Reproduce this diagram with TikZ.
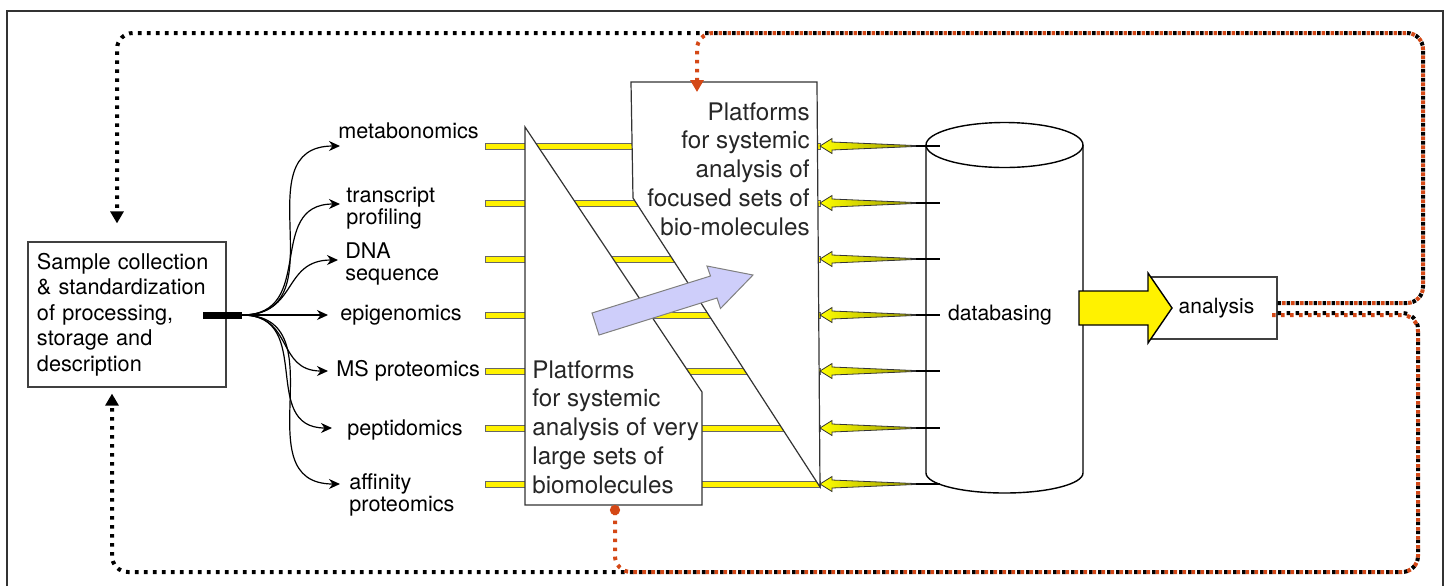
\documentclass[tikz,border=0pt]{standalone}
\usepackage{fontspec}
\setmainfont{TeX Gyre Heros}
\usetikzlibrary{arrows.meta}
\definecolor{lavender}{RGB}{206,206,250}
\definecolor{rust}{RGB}{212,72,22}
\begin{document}
\begin{tikzpicture}[x=0.5pt, y=-0.5pt,
        frame/.style={draw=black!80, line width=0.6pt},
        box/.style={draw=black!75, line width=0.6pt, fill=white},
        plat/.style={draw=black!80, line width=0.6pt, fill=white},
        lbl/.style={anchor=west, align=left, inner sep=0pt, font=\fontsize{10.8}{11}\selectfont},
        ptext/.style={inner sep=0pt, text=black!85, font=\fontsize{12.1}{14.4}\selectfont},
        fanline/.style={line width=0.6pt, -{Stealth[length=5.5pt, width=5pt]}},
        bar/.style={draw=black!60, line width=0.4pt, fill=yellow},
        spike/.style={draw=black!80, line width=0.4pt, left color=yellow, right color=yellow!55!black},
        db/.style={draw=black, line width=0.7pt},
        loopb/.style={draw=black, line width=2pt, dash pattern=on 1.8pt off 2.7pt, rounded corners=8pt},
        loopr/.style={loopb, draw=rust, dash phase=2.25pt},
        tip/.style={-{Triangle[length=6pt, width=6.5pt]}}]
    \useasboundingbox (0,0) rectangle (1448,586);
    % frame
    \draw[frame] (7,586) -- (7,11) -- (1443,11) -- (1443,586);

    % feeds running under the platforms
    \foreach \y in {146,203,259,315,371,428,484}
        \draw[bar] (485,\y-3) rectangle (820,\y+3);

    % platforms
    \draw[plat] (525,127) -- (702,392) -- (702,505) -- (525,505) -- cycle;
    \draw[plat] (631,82) -- (817,82) -- (820,487) -- (633,198) -- cycle;
    \node[ptext, anchor=west, align=left] (large) at (532,427)
        {Platforms\\for systemic\\analysis of very\\large sets of\\biomolecules};
    \node[ptext, anchor=east, align=right] (focused) at (810,169)
        {Platforms\\for systemic\\analysis of\\focused sets of\\bio-molecules};
    \draw[draw=black!50, line width=0.5pt, fill=lavender] (592,313) -- (710.5,276) -- (707,266)
        -- (753,275) -- (720.5,308.5) -- (717,298) -- (599,335) -- cycle;

    % database
    \draw[db, fill=white] (926,145) -- (926,473) arc[start angle=180, end angle=0, x radius=78.5, y radius=20] -- (1083,145);
    \draw[db] (1004.5,145) ellipse[x radius=78.5, y radius=22.5];
    \node[lbl, anchor=center, font=\fontsize{10.6}{11}\selectfont] (dbase) at (1000,315) {databasing};
    \foreach \y in {146,203,259,315,371,428,484} {
        \draw[spike] (820,\y) -- (832,\y-7.5) -- (832,\y-4) -- (926,\y) -- (832,\y+4) -- (832,\y+7.5) -- cycle;
        \draw[line width=0.6pt] (916,\y) -- (940,\y);
    }

    % analysis
    \node[box, minimum width=63.5pt, minimum height=31pt, font=\fontsize{10.5}{11}\selectfont] (analysis) at (1213.5,308) {\hspace{3pt}analysis};
    \draw[db, fill=yellow] (1079,291) -- (1148,291) -- (1148,273) -- (1172,308) -- (1148,343) -- (1148,325) -- (1079,325) -- cycle;

    % sample
    \node[box, align=left, text width=90pt, inner sep=4.5pt, minimum height=72.5pt,
        font=\fontsize{10.85}{12.75}\selectfont] (sample) at (127,314.5)
        {Sample collection\\\& standardization\\of processing,\\storage and\\description};

    \coordinate (fan) at (203,315);
    \coordinate (split) at (242,315);
    \coordinate (tm) at (340,146);
    \coordinate (tt) at (340,204);
    \coordinate (td) at (338,260);
    \coordinate (te) at (328,315);
    \coordinate (tms) at (328,371);
    \coordinate (tp) at (332,428);
    \coordinate (ta) at (340,484);
    \node[lbl] (metab) at (338,131) {metabonomics};
    \node[lbl] (transc) at (346,208) {transcript\\profiling};
    \node[lbl] (dna) at (345,264) {DNA\\sequence};
    \node[lbl] (epi) at (340,315) {epigenomics};
    \node[lbl] (msprot) at (336,371) {MS proteomics};
    \node[lbl] (pept) at (347,430) {peptidomics};
    \node[lbl] (affin) at (349,495) {affinity\\proteomics};
    \draw[line width=3.5pt] (fan) -- (split);
    \foreach \t in {tm,tt,td,tms,tp,ta}
        \draw[fanline] (split) to[out=0, in=180, looseness=1.3] (\t);
    \draw[fanline] (split) -- (te);

    % feedback loops
    \coordinate (rtop) at (697,92);
    \coordinate (lbot) at (615,505);
    \draw[loopb, tip] ([yshift=2.5pt]analysis.east) -- (1423,303) -- (1423,33) -- (117,33) -- ([xshift=-5pt,yshift=9pt]sample.north);
    \draw[loopr, tip] ([yshift=2.5pt]analysis.east) -- (1423,303) -- (1423,33) -- (697,33) -- (rtop);
    \draw[loopb, tip] ([yshift=-2.5pt]analysis.east) -- (1418,313) -- (1418,572) -- (112,572) -- ([xshift=-7.5pt,yshift=-3pt]sample.south);
    \draw[loopr, -{Circle[length=5pt]}] ([xshift=-5pt,yshift=-3.5pt]analysis.east) -- (1418,315) -- (1418,572) -- (615,572) -- (lbot);
\end{tikzpicture}
\end{document}
